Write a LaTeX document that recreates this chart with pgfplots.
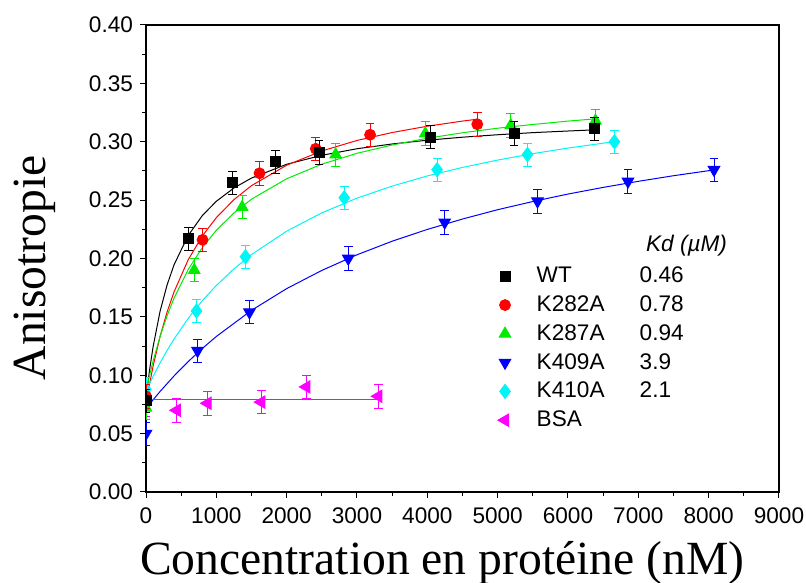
\documentclass[border=0pt]{standalone}
\usepackage{fontspec}
\setmainfont{Liberation Sans}
\newfontfamily\serifx{Liberation Serif}
\usepackage{pgfplots}
\pgfplotsset{compat=1.18}
\definecolor{cgreen}{RGB}{0,235,0}
\definecolor{ccyan}{RGB}{0,245,245}
\definecolor{cblue}{RGB}{0,0,255}
\definecolor{cred}{RGB}{255,0,0}
\definecolor{cmag}{RGB}{255,0,255}
\begin{document}
\begin{tikzpicture}
\useasboundingbox (-73pt,-45pt) rectangle (330pt,246pt);
\begin{axis}[
  scale only axis, width=316.5pt, height=233.5pt,
  xmin=0, xmax=9000, ymin=0, ymax=0.40,
  xtick={0,1000,2000,3000,4000,5000,6000,7000,8000,9000},
  ytick={0,0.05,0.10,0.15,0.20,0.25,0.30,0.35,0.40},
  minor x tick num=1, minor y tick num=1,
  xtick pos=bottom, ytick pos=left, tick align=outside,
  major tick length=3pt, minor tick length=1.8pt,
  tick style={black, line width=0.5pt},
  axis line style={line width=0.6pt},
  scaled ticks=false,
  clip marker paths=true,
  /pgf/number format/assume math mode=true,
  xticklabel style={font=\fontsize{11.3}{13}\selectfont, yshift=-1.5pt, /pgf/number format/1000 sep={}},
  yticklabel style={font=\fontsize{11.3}{13}\selectfont, /pgf/number format/.cd, fixed, fixed zerofill, precision=2},
  xlabel={Concentration en protéine (nM)},
  ylabel={Anisotropie},
  xlabel style={font=\serifx\fontsize{23.8}{28}\selectfont, at={(axis description cs:0.468,-0.1756)}, anchor=base},
  ylabel style={font=\serifx\fontsize{23.8}{28}\selectfont, at={(axis description cs:-0.176,0.48)}, anchor=center},
  reverse legend,
  legend cell align=left,
  legend style={at={(axis description cs:0.546,0.50)}, anchor=north west, draw=none, fill=none,
    font=\fontsize{11.3}{13}\selectfont, row sep=1.0pt},
  every axis plot/.append style={line width=0.5pt},
  error bars/error bar style={line width=0.5pt},
]
% fitted curves
\addplot[black, forget plot] coordinates {(0,0.080)(50,0.1042)(100,0.1241)(200,0.1548)(300,0.1774)(400,0.1948)(600,0.2197)(800,0.2367)(1000,0.2490)(1250,0.2604)(1500,0.2689)(2000,0.2807)(2500,0.2884)(3000,0.2940)(3500,0.2981)(4000,0.3013)(4500,0.3039)(5000,0.3060)(5500,0.3078)(6000,0.3092)(6380,0.3102)};
\addplot[cred, forget plot] coordinates {(0,0.0751)(50,0.0922)(100,0.1075)(200,0.1332)(300,0.1542)(400,0.1716)(600,0.1989)(800,0.2192)(1000,0.2350)(1250,0.2504)(1500,0.2624)(2000,0.2799)(2500,0.2921)(3000,0.3011)(3500,0.3079)(4000,0.3133)(4500,0.3177)(4710,0.3193)};
\addplot[cgreen, forget plot] coordinates {(0,0.0863)(50,0.0998)(100,0.1120)(200,0.1332)(300,0.1510)(400,0.1662)(600,0.1906)(800,0.2093)(1000,0.2242)(1250,0.2390)(1500,0.2508)(2000,0.2683)(2500,0.2808)(3000,0.2901)(3500,0.2972)(4000,0.3030)(4500,0.3077)(5000,0.3116)(5500,0.3148)(6000,0.3177)(6390,0.3196)};
\addplot[cblue, forget plot] coordinates {(0,0.0713)(100,0.0789)(200,0.0861)(400,0.0995)(600,0.1117)(800,0.1229)(1000,0.1332)(1500,0.1556)(2000,0.1742)(2500,0.1898)(3000,0.2032)(3500,0.2148)(4000,0.2249)(4500,0.2338)(5000,0.2418)(5500,0.2488)(6000,0.2552)(6500,0.2609)(7000,0.2661)(7500,0.2709)(8080,0.2759)};
\addplot[ccyan, forget plot] coordinates {(0,0.0861)(50,0.0927)(100,0.0989)(200,0.1106)(300,0.1213)(400,0.1311)(600,0.1487)(800,0.1638)(1000,0.1769)(1250,0.1911)(1500,0.2034)(2000,0.2234)(2500,0.2391)(3000,0.2517)(3500,0.2620)(4000,0.2707)(4500,0.2780)(5000,0.2843)(5500,0.2898)(6000,0.2946)(6660,0.3001)};
\addplot[cmag, forget plot] coordinates {(0,0.0788)(3330,0.0788)};
% data
\addplot[only marks, cmag, mark=triangle*, mark size=3.5pt, mark options={rotate=90},
  error bars/.cd, y dir=both, y fixed=0.01, error mark options={mark size=2.2pt, rotate=90}]
  coordinates {(0,0.075)(439,0.070)(876,0.076)(1639,0.077)(2281,0.090)(3304,0.082)};
\addlegendentry{\hspace*{11pt}BSA}
\addplot[only marks, ccyan, mark=diamond*, mark size=3.5pt,
  error bars/.cd, y dir=both, y fixed=0.01, error mark options={mark size=2.2pt, rotate=90}]
  coordinates {(0,0.088)(718,0.155)(1414,0.2015)(2819,0.252)(4139,0.276)(5424,0.289)(6661,0.300)};
\addlegendentry{\hspace*{11pt}\makebox[51.5pt][l]{K410A}2.1}
\addplot[only marks, cblue, mark=triangle*, mark size=3.3pt, mark options={rotate=180},
  error bars/.cd, y dir=both, y fixed=0.01, error mark options={mark size=2.2pt, rotate=90}]
  coordinates {(0,0.050)(733,0.121)(1471,0.154)(2876,0.200)(4247,0.231)(5567,0.249)(6853,0.266)(8076,0.276)};
\addlegendentry{\hspace*{11pt}\makebox[51.5pt][l]{K409A}3.9}
\addplot[only marks, cgreen, mark=triangle*, mark size=3.3pt,
  error bars/.cd, y dir=both, y fixed=0.01, error mark options={mark size=2.2pt, rotate=90}]
  coordinates {(0,0.072)(686,0.190)(1367,0.244)(2696,0.289)(3971,0.307)(5186,0.314)(6390,0.318)};
\addlegendentry{\hspace*{11pt}\makebox[51.5pt][l]{K287A}0.94}
\addplot[only marks, cred, mark=*, mark size=2.7pt,
  error bars/.cd, y dir=both, y fixed=0.01, error mark options={mark size=2.2pt, rotate=90}]
  coordinates {(0,0.082)(804,0.216)(1614,0.273)(2414,0.294)(3186,0.306)(4710,0.315)};
\addlegendentry{\hspace*{11pt}\makebox[51.5pt][l]{K282A}0.78}
\addplot[only marks, black, mark=square*, mark size=2.5pt,
  error bars/.cd, y dir=both, y fixed=0.01, error mark options={mark size=2.2pt, rotate=90}]
  coordinates {(0,0.078)(604,0.217)(1233,0.265)(1839,0.283)(2461,0.291)(4043,0.304)(5233,0.307)(6376,0.311)};
\addlegendentry{\hspace*{11pt}\makebox[51.5pt][l]{WT}0.46}
\node[anchor=west, font=\itshape\fontsize{11.3}{13}\selectfont] at (axis description cs:0.779,0.5276) {Kd (µM)};
\end{axis}
\end{tikzpicture}
\end{document}
